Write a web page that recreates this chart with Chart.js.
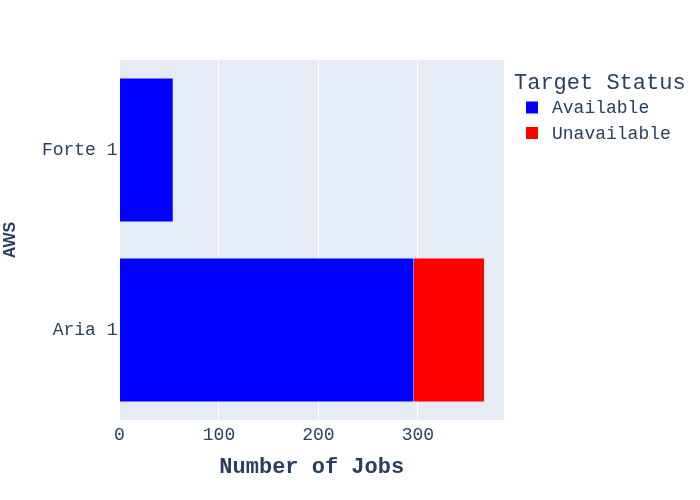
<!DOCTYPE html>
<html>
<head>
<meta charset="utf-8">
<script src="https://cdn.jsdelivr.net/npm/chart.js@4"></script>
<style>
html,body{margin:0;padding:0;background:#fff;}
#wrap{width:700px;height:500px;position:relative;}
</style>
</head>
<body>
<div id="wrap"><canvas id="c" width="700" height="500"></canvas></div>
<script>
const categories = ['Forte 1', 'Aria 1'];
const availableJobs = [54, 296];
const unavailableJobs = [0, 71];
const seriesNames = ['Available', 'Unavailable'];
const seriesColors = ['#0000ff', '#ff0000'];
const xTicks = [0, 100, 200, 300];
const xMax = 386.5;
const legendTitle = 'Target Status';
const xTitle = 'Number of Jobs';
const yTitle = 'AWS';

const TEXT = '#2a3f5f';
const MONO = '"Liberation Mono", "DejaVu Sans Mono", monospace';

const bgPlugin = {
  id: 'plotbg',
  beforeDraw(chart) {
    const {ctx, chartArea: a} = chart;
    ctx.save();
    ctx.fillStyle = '#e5ecf6';
    ctx.fillRect(a.left, a.top, a.right - a.left, a.bottom - a.top);
    ctx.restore();
  }
};

const legendPlugin = {
  id: 'customLegend',
  afterDraw(chart) {
    const ctx = chart.ctx;
    ctx.save();
    ctx.fillStyle = TEXT;
    ctx.textBaseline = 'middle';
    ctx.textAlign = 'left';
    ctx.font = '22px ' + MONO;
    ctx.fillText(legendTitle, 514, 83);
    ctx.font = '18px ' + MONO;
    chart.data.datasets.forEach((ds, i) => {
      const cy = 107.5 + i * 25.5;
      ctx.fillStyle = ds.backgroundColor;
      ctx.fillRect(526, cy - 6, 12, 12);
      ctx.fillStyle = TEXT;
      ctx.fillText(ds.label, 552, cy + 1);
    });
    ctx.restore();
  }
};

new Chart(document.getElementById('c'), {
  type: 'bar',
  data: {
    labels: categories,
    datasets: [
      {label: seriesNames[0], data: availableJobs, backgroundColor: seriesColors[0], borderColor: '#e5ecf6', borderWidth: 0.5, categoryPercentage: 1, barPercentage: 0.8},
      {label: seriesNames[1], data: unavailableJobs, backgroundColor: seriesColors[1], borderColor: '#e5ecf6', borderWidth: 0.5, categoryPercentage: 1, barPercentage: 0.8}
    ]
  },
  options: {
    indexAxis: 'y',
    responsive: false,
    animation: false,
    devicePixelRatio: 1,
    layout: {padding: {left: 0, top: 60, right: 196, bottom: 0}},
    plugins: {legend: {display: false}, tooltip: {enabled: false}},
    scales: {
      x: {
        stacked: true,
        min: 0,
        max: xMax,
        afterBuildTicks(scale) { scale.ticks = xTicks.map(v => ({value: v})); },
        afterFit(scale) { scale.height = 80; },
        grid: {color: '#ffffff', lineWidth: 1, drawTicks: false},
        border: {display: false},
        ticks: {color: TEXT, font: {family: MONO, size: 18}, padding: 4, maxRotation: 0},
        title: {display: true, text: xTitle, color: TEXT, font: {family: MONO, size: 22, weight: 'bold'}, padding: {top: 0, bottom: 19}}
      },
      y: {
        stacked: true,
        afterFit(scale) { scale.width = 119.5; },
        grid: {display: false, drawTicks: false},
        border: {display: false},
        ticks: {color: TEXT, font: {family: MONO, size: 18}, padding: 2},
        title: {display: true, text: yTitle, color: TEXT, font: {family: '"Liberation Sans", Arial, sans-serif', size: 16, weight: 'bold'}, padding: {top: 1, bottom: 0}}
      }
    }
  },
  plugins: [bgPlugin, legendPlugin]
});
</script>
</body>
</html>
